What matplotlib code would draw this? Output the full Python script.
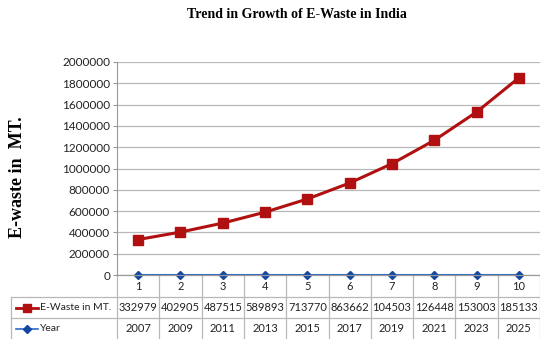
import matplotlib.pyplot as plt
import matplotlib.transforms as mtransforms
import numpy as np

# series shown in the chart
periods = [1, 2, 3, 4, 5, 6, 7, 8, 9, 10]
ewaste = [332979, 402905, 487515, 589893, 713770, 863662, 1045030, 1264480, 1530030, 1851330]
years = [2007, 2009, 2011, 2013, 2015, 2017, 2019, 2021, 2023, 2025]
yticks = [0, 200000, 400000, 600000, 800000, 1000000, 1200000, 1400000, 1600000, 1800000, 2000000]

red = "#B01010"
blue = "#2E6BC6"
dblue = "#1447A0"
grid = "#B8B8B8"
W, H = 540, 339

fig = plt.figure(figsize=(W / 100, H / 100), dpi=100)
ax = fig.add_axes([117 / W, 1 - 275 / H, 423 / W, 213 / H])

ax.plot(periods, ewaste, color=red, lw=2.2, marker="s", ms=6.5, zorder=3)
ax.plot(periods, years, color=blue, lw=1.2, marker="D", ms=4.5,
        mfc=dblue, mec=dblue, zorder=3, clip_on=False)

ax.set_xlim(0.5, 10.5)
ax.set_ylim(0, 2000000)
ax.set_yticks(yticks)
ax.set_yticklabels([str(v) for v in yticks], fontsize=8.5, family="Lato", color="#222222")
ax.set_xticks([])
ax.yaxis.grid(True, color=grid, lw=0.9)
ax.set_axisbelow(True)
for s in ["top", "right", "bottom"]:
    ax.spines[s].set_visible(False)
ax.spines["left"].set_color("#999999")
ax.tick_params(axis="y", length=3, color="#999999", pad=2)

fig.text(297 / W, 1 - 15 / H, "Trend in Growth of E-Waste in India", ha="center", va="center",
         family="Liberation Serif", weight="bold", fontsize=10)
fig.text(18 / W, 1 - 177 / H, "E-waste in  MT.", ha="center", va="center", rotation=90,
         family="Liberation Serif", weight="bold", fontsize=13)

# data table under the axis: x in data units, y in figure pixels from the top
trans = mtransforms.blended_transform_factory(ax.transData, fig.transFigure)
ftrans = fig.transFigure

def fy(py):
    return 1 - py / H

line_kw = dict(color=grid, lw=0.9, clip_on=False)
row_tops = [275, 297, 318, 339]
# horizontal borders
for py in row_tops[1:3]:
    fig.add_artist(plt.Line2D([11 / W, 1], [fy(py), fy(py)], transform=ftrans, **line_kw))
fig.add_artist(plt.Line2D([117 / W, 1], [fy(275), fy(275)], transform=ftrans, color="#999999", lw=0.9))
# vertical borders
for b in np.arange(0.5, 11, 1.0):
    ax.add_line(plt.Line2D([b, b], [fy(275), fy(339)], transform=trans, **line_kw))
fig.add_artist(plt.Line2D([11 / W, 11 / W], [fy(297), fy(339)], transform=ftrans, **line_kw))

tkw = dict(ha="center", va="center", fontsize=8, family="Lato", color="#222222", transform=trans)
for p, e, yr in zip(periods, ewaste, years):
    ax.text(p, fy(286), str(p), **tkw)
    # cells are too narrow for seven digits, only six show
    ax.text(p, fy(307.5), str(e)[:6], **tkw)
    ax.text(p, fy(328.5), str(yr), **tkw)

# legend keys in the first column
fig.add_artist(plt.Line2D([16 / W, 38 / W], [fy(307.5)] * 2, transform=ftrans, color=red, lw=2))
fig.add_artist(plt.Line2D([27 / W], [fy(307.5)], transform=ftrans, color=red, marker="s", ms=5.5))
fig.add_artist(plt.Line2D([16 / W, 38 / W], [fy(328.5)] * 2, transform=ftrans, color=blue, lw=1.2))
fig.add_artist(plt.Line2D([27 / W], [fy(328.5)], transform=ftrans, color=dblue, marker="D", ms=4))
fig.text(40 / W, fy(307.5), "E-Waste in MT.", ha="left", va="center", fontsize=7.5,
         family="Lato", color="#222222")
fig.text(40 / W, fy(328.5), "Year", ha="left", va="center", fontsize=7.5,
         family="Lato", color="#222222")

fig.savefig("out.png", dpi=100)
